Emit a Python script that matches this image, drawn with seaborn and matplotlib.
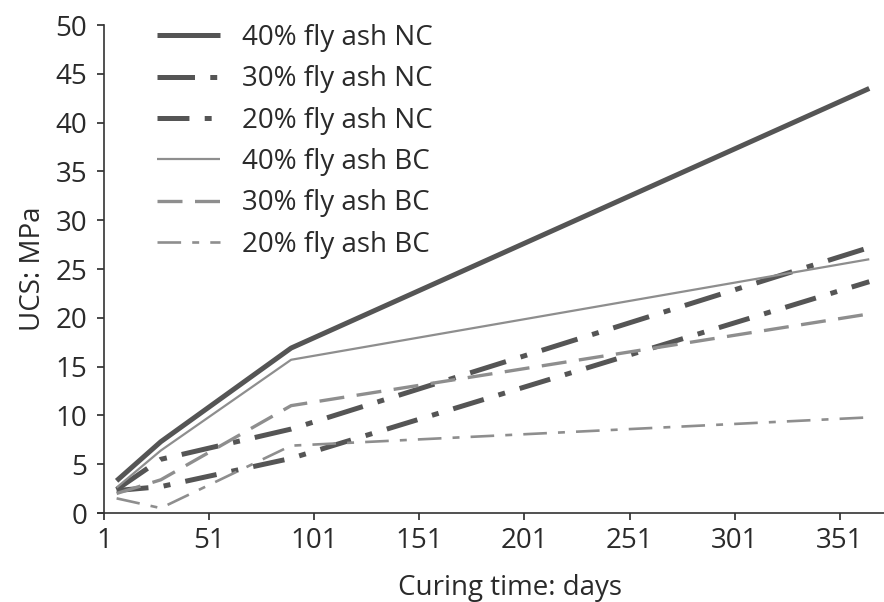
import matplotlib
matplotlib.use("Agg")
import matplotlib.pyplot as plt
import seaborn as sns
import pandas as pd

# Curing ages (days) and unconfined compressive strength (MPa)
days = [7, 28, 90, 365]
series_names = [
    "40% fly ash NC", "30% fly ash NC", "20% fly ash NC",
    "40% fly ash BC", "30% fly ash BC", "20% fly ash BC",
]
ucs_40_nc = [3.3, 7.3, 16.9, 43.5]
ucs_30_nc = [2.4, 5.5, 8.6, 27.2]
ucs_20_nc = [2.3, 2.7, 5.6, 23.7]
ucs_40_bc = [2.6, 6.4, 15.7, 26.0]
ucs_30_bc = [2.0, 3.4, 11.0, 20.4]
ucs_20_bc = [1.5, 0.5, 6.9, 9.8]
values = [ucs_40_nc, ucs_30_nc, ucs_20_nc, ucs_40_bc, ucs_30_bc, ucs_20_bc]
x_ticks = [1, 51, 101, 151, 201, 251, 301, 351]
y_ticks = [0, 5, 10, 15, 20, 25, 30, 35, 40, 45, 50]

df = pd.DataFrame({
    "days": days * len(series_names),
    "ucs": [v for vals in values for v in vals],
    "mix": [name for name in series_names for _ in days],
})

sns.set_theme(style="white")
plt.rcParams["font.family"] = ["Open Sans", "DejaVu Sans"]
plt.rcParams["lines.scale_dashes"] = False
text_color = "#2a2a2a"

dark = "#555555"
light = "#8e8e8e"
styles = {
    "40% fly ash NC": dict(color=dark, lw=3.6, ls="-"),
    "30% fly ash NC": dict(color=dark, lw=3.6, ls=(0, (27, 11, 5, 11))),
    "20% fly ash NC": dict(color=dark, lw=3.6, ls=(0, (23, 11, 5, 11))),
    "40% fly ash BC": dict(color=light, lw=1.6, ls="-"),
    "30% fly ash BC": dict(color=light, lw=2.4, ls=(0, (18, 9))),
    "20% fly ash BC": dict(color=light, lw=1.9, ls=(0, (17, 8, 5, 8))),
}

fig = plt.figure(figsize=(8.84, 6.02), dpi=100)
ax = fig.add_axes([104 / 884, 89 / 602, 1 - 104 / 884, 488 / 602])

for name in series_names:
    st = styles[name]
    sub = df[df["mix"] == name]
    sns.lineplot(data=sub, x="days", y="ucs", ax=ax, color=st["color"],
                 linewidth=st["lw"], linestyle=st["ls"], label=name,
                 solid_capstyle="butt", dash_capstyle="butt")

ax.set_xlim(1, 372)
ax.set_ylim(0, 50)
ax.set_xticks(x_ticks)
ax.set_yticks(y_ticks)
ax.tick_params(axis="both", labelsize=20, colors=text_color, length=5,
               width=1.2, direction="out", bottom=True, left=True)
ax.tick_params(axis="x", pad=5)
ax.tick_params(axis="y", pad=7)
ax.spines["bottom"].set_bounds(-2, 372)
for side in ["top", "right"]:
    ax.spines[side].set_visible(False)
for side in ["left", "bottom"]:
    ax.spines[side].set_color("#333333")
    ax.spines[side].set_linewidth(1.2)
    ax.spines[side].set_clip_on(False)

ax.set_xlabel("Curing time: days", fontsize=20, color=text_color)
ax.set_ylabel("UCS: MPa", fontsize=20, color=text_color, labelpad=6)
ax.xaxis.set_label_coords(0.52, -0.125)

leg = ax.legend(loc="upper left", bbox_to_anchor=(157 / 884, 1 - 24 / 602),
                bbox_transform=fig.transFigure, frameon=False,
                fontsize=20, handlelength=2.27, handletextpad=0.8,
                labelspacing=0.48, borderpad=0, borderaxespad=0)
for t in leg.get_texts():
    t.set_color(text_color)

fig.savefig("out.png", dpi=100)
